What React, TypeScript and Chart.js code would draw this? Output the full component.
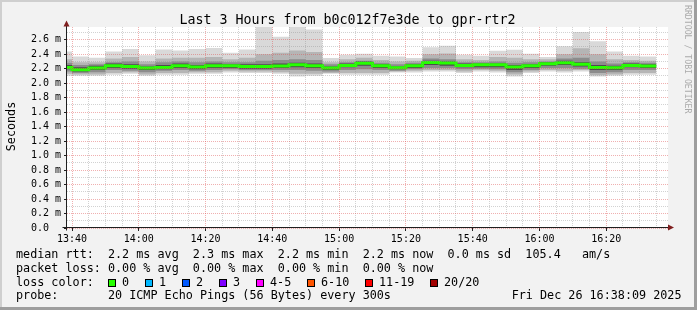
import React, { useEffect, useRef } from 'react';
import { Chart, registerables } from 'chart.js';

Chart.register(...registerables);

// ---- data ----
const binStarts = [
  '13:35', '13:40', '13:45', '13:50', '13:55', '14:00', '14:05', '14:10', '14:15',
  '14:20', '14:25', '14:30', '14:35', '14:40', '14:45', '14:50', '14:55', '15:00',
  '15:05', '15:10', '15:15', '15:20', '15:25', '15:30', '15:35', '15:40', '15:45',
  '15:50', '15:55', '16:00', '16:05', '16:10', '16:15', '16:20', '16:25', '16:30',
];
const binEnd = '16:35';

// median rtt (ms)
const medianMs = [
  2.217, 2.185, 2.209, 2.241, 2.231, 2.209, 2.217, 2.241, 2.223, 2.241, 2.241, 2.231,
  2.231, 2.237, 2.254, 2.241, 2.209, 2.245, 2.275, 2.241, 2.213, 2.241, 2.286, 2.278,
  2.245, 2.254, 2.254, 2.223, 2.241, 2.268, 2.283, 2.262, 2.217, 2.211, 2.245, 2.237,
];
// smoke: outermost (slowest / fastest ping)
const maxMs = [
  2.438, 2.369, 2.352, 2.437, 2.470, 2.385, 2.465, 2.452, 2.470, 2.485, 2.418, 2.465,
  2.900, 2.640, 2.900, 2.739, 2.347, 2.393, 2.407, 2.379, 2.369, 2.347, 2.494, 2.517,
  2.393, 2.379, 2.448, 2.462, 2.407, 2.361, 2.508, 2.707, 2.577, 2.438, 2.379, 2.369,
];
const minMs = [
  2.102, 2.102, 2.102, 2.116, 2.130, 2.102, 2.116, 2.116, 2.130, 2.130, 2.148, 2.140,
  2.140, 2.130, 2.093, 2.102, 2.130, 2.116, 2.116, 2.116, 2.148, 2.148, 2.162, 2.162,
  2.140, 2.162, 2.148, 2.093, 2.140, 2.162, 2.148, 2.162, 2.093, 2.102, 2.116, 2.116,
];
const upper1 = [
  2.33, 2.29, 2.29, 2.34, 2.36, 2.30, 2.34, 2.35, 2.35, 2.36, 2.33, 2.35,
  2.40, 2.42, 2.45, 2.43, 2.29, 2.33, 2.35, 2.32, 2.30, 2.31, 2.40, 2.41,
  2.33, 2.32, 2.36, 2.35, 2.33, 2.33, 2.40, 2.48, 2.40, 2.33, 2.32, 2.31,
];
const lower1 = [
  2.13, 2.12, 2.12, 2.14, 2.15, 2.12, 2.14, 2.14, 2.15, 2.15, 2.17, 2.16,
  2.16, 2.15, 2.13, 2.13, 2.14, 2.14, 2.14, 2.14, 2.16, 2.17, 2.18, 2.18,
  2.16, 2.18, 2.17, 2.12, 2.16, 2.18, 2.17, 2.18, 2.11, 2.12, 2.14, 2.14,
];
const upper2 = [
  2.28, 2.25, 2.26, 2.29, 2.30, 2.26, 2.29, 2.30, 2.29, 2.30, 2.29, 2.29,
  2.31, 2.32, 2.33, 2.32, 2.26, 2.29, 2.31, 2.28, 2.26, 2.28, 2.34, 2.33,
  2.29, 2.29, 2.30, 2.28, 2.29, 2.30, 2.34, 2.35, 2.30, 2.27, 2.29, 2.28,
];
const lower2 = [
  2.16, 2.14, 2.15, 2.18, 2.17, 2.15, 2.17, 2.18, 2.17, 2.18, 2.19, 2.18,
  2.18, 2.18, 2.18, 2.17, 2.16, 2.18, 2.19, 2.18, 2.17, 2.19, 2.21, 2.21,
  2.19, 2.20, 2.19, 2.15, 2.18, 2.21, 2.21, 2.20, 2.14, 2.15, 2.18, 2.18,
];
const upper3 = [
  2.25, 2.22, 2.24, 2.27, 2.26, 2.23, 2.25, 2.27, 2.25, 2.27, 2.26, 2.26,
  2.26, 2.27, 2.28, 2.27, 2.23, 2.27, 2.30, 2.26, 2.23, 2.26, 2.31, 2.30,
  2.27, 2.27, 2.27, 2.25, 2.26, 2.29, 2.31, 2.29, 2.25, 2.24, 2.27, 2.26,
];
const lower3 = [
  2.19, 2.16, 2.18, 2.21, 2.20, 2.18, 2.19, 2.21, 2.19, 2.21, 2.21, 2.20,
  2.20, 2.21, 2.22, 2.21, 2.18, 2.22, 2.24, 2.21, 2.19, 2.21, 2.25, 2.24,
  2.22, 2.22, 2.22, 2.18, 2.21, 2.24, 2.25, 2.23, 2.18, 2.18, 2.22, 2.21,
];

// axes
const xRangeStart = '13:38:30';
const xRangeEnd = '16:38:30';
const xGridTimes = [
  '13:40', '13:45', '13:50', '13:55', '14:00', '14:05', '14:10', '14:15', '14:20',
  '14:25', '14:30', '14:35', '14:40', '14:45', '14:50', '14:55', '15:00', '15:05',
  '15:10', '15:15', '15:20', '15:25', '15:30', '15:35', '15:40', '15:45', '15:50',
  '15:55', '16:00', '16:05', '16:10', '16:15', '16:20', '16:25', '16:30', '16:35',
];
const xTickLabels = ['13:40', '14:00', '14:20', '14:40', '15:00', '15:20', '15:40', '16:00', '16:20'];
const yMax = 2.775;
const yGridValues = [
  0, 0.1, 0.2, 0.3, 0.4, 0.5, 0.6, 0.7, 0.8, 0.9, 1.0, 1.1, 1.2, 1.3,
  1.4, 1.5, 1.6, 1.7, 1.8, 1.9, 2.0, 2.1, 2.2, 2.3, 2.4, 2.5, 2.6, 2.7,
];
const yLabelValues = [0, 0.2, 0.4, 0.6, 0.8, 1.0, 1.2, 1.4, 1.6, 1.8, 2.0, 2.2, 2.4, 2.6];
const yTickLabels = [
  '0.0  ', '0.2 m', '0.4 m', '0.6 m', '0.8 m', '1.0 m', '1.2 m',
  '1.4 m', '1.6 m', '1.8 m', '2.0 m', '2.2 m', '2.4 m', '2.6 m',
];

// texts
const titleText = 'Last 3 Hours from b0c012f7e3de to gpr-rtr2';
const yTitle = 'Seconds';
const watermark = 'RRDTOOL / TOBI OETIKER';
const statLine1 = 'median rtt:  2.2 ms avg  2.3 ms max  2.2 ms min  2.2 ms now  0.0 ms sd  105.4   am/s';
const statLine2 = 'packet loss: 0.00 % avg  0.00 % max  0.00 % min  0.00 % now';
const lossTitle = 'loss color:';
const lossLabels = ['0', '1', '2', '3', '4-5', '6-10', '11-19', '20/20'];
const lossColors = ['#26ff00', '#00b8ff', '#0059ff', '#7e00ff', '#ff00ff', '#ff5500', '#ff0000', '#a10000'];
const probeLine = 'probe:       20 ICMP Echo Pings (56 Bytes) every 300s';
const dateText = 'Fri Dec 26 16:38:09 2025';

// ---- helpers ----
const toMin = (t: string) => {
  const p = t.split(':').map(Number);
  return p[0] * 60 + p[1] + (p[2] || 0) / 60;
};
const stepX = [...binStarts, binEnd].map(toMin);
const stepSeries = (vals: number[]) =>
  stepX.map((x, i) => ({ x, y: vals[Math.min(i, vals.length - 1)] }));

const MONO = '"DejaVu Sans Mono", monospace';
const isMajorX = (v: number) => xTickLabels.some((t) => Math.abs(toMin(t) - v) < 1e-6);
const isMajorY = (v: number) => yLabelValues.some((t) => Math.abs(t - v) < 1e-6);

const rrdPlugin = {
  id: 'rrdFrame',
  beforeDraw(chart: any) {
    const { ctx, width, height, chartArea: a } = chart;
    ctx.save();
    ctx.fillStyle = '#f2f2f2';
    ctx.fillRect(0, 0, width, height);
    ctx.fillStyle = '#cfcfcf';
    ctx.fillRect(0, 0, width, 2);
    ctx.fillRect(0, 0, 2, height);
    ctx.fillStyle = '#9e9e9e';
    ctx.fillRect(0, height - 3, width, 3);
    ctx.fillRect(width - 3, 0, 3, height);
    ctx.fillStyle = '#ffffff';
    ctx.fillRect(a.left, a.top, a.right - a.left, a.bottom - a.top);
    ctx.restore();
  },
  afterDraw(chart: any) {
    const { ctx, chartArea: a } = chart;
    const ys = chart.scales.y;
    const xs = chart.scales.x;
    const axisY = Math.round(ys.getPixelForValue(0)) - 0.5;
    const axisX = Math.round(xs.left) - 0.5;
    ctx.save();
    // axes
    ctx.strokeStyle = '#1f1f1f';
    ctx.lineWidth = 1;
    ctx.beginPath();
    ctx.moveTo(axisX, axisY + 3);
    ctx.lineTo(axisX, a.top - 3);
    ctx.moveTo(axisX - 4, axisY);
    ctx.lineTo(a.right + 2, axisY);
    ctx.stroke();
    ctx.fillStyle = '#801f1f';
    ctx.beginPath();
    ctx.moveTo(axisX, a.top - 6.5);
    ctx.lineTo(axisX - 3, a.top - 0.5);
    ctx.lineTo(axisX + 3, a.top - 0.5);
    ctx.closePath();
    ctx.fill();
    ctx.beginPath();
    ctx.moveTo(a.right + 6, axisY);
    ctx.lineTo(a.right, axisY - 3);
    ctx.lineTo(a.right, axisY + 3);
    ctx.closePath();
    ctx.fill();

    // title
    ctx.fillStyle = '#000';
    ctx.textBaseline = 'alphabetic';
    ctx.textAlign = 'center';
    ctx.font = `13.3px ${MONO}`;
    ctx.fillText(titleText, 347.5, 24);

    // y title
    ctx.save();
    ctx.translate(15, 126.5);
    ctx.rotate(-Math.PI / 2);
    ctx.font = `11.76px ${MONO}`;
    ctx.textAlign = 'center';
    ctx.fillText(yTitle, 0, 0);
    ctx.restore();

    // watermark
    ctx.save();
    ctx.translate(685, 5);
    ctx.rotate(Math.PI / 2);
    ctx.font = `8.2px ${MONO}`;
    ctx.textAlign = 'left';
    ctx.fillStyle = '#ababab';
    ctx.fillText(watermark, 0, 0);
    ctx.restore();

    // legend
    ctx.font = `11.76px ${MONO}`;
    ctx.textAlign = 'left';
    ctx.fillStyle = '#000';
    ctx.fillText(statLine1, 16, 258);
    ctx.fillText(statLine2, 16, 271.7);
    ctx.fillText(lossTitle, 16, 285.5);
    ctx.fillText(probeLine, 16, 299.3);
    ctx.textAlign = 'right';
    ctx.fillText(dateText, 681.5, 299.3);
    ctx.textAlign = 'left';
    const boxX = [108, 145, 182, 219, 256, 307, 365, 430];
    lossLabels.forEach((lab, i) => {
      const bx = boxX[i];
      ctx.fillStyle = lossColors[i];
      ctx.fillRect(bx, 279, 8, 8);
      ctx.strokeStyle = '#000';
      ctx.strokeRect(bx + 0.5, 279.5, 7, 7);
      ctx.fillStyle = '#000';
      ctx.fillText(lab, bx + 14, 285.5);
    });
    ctx.restore();
  },
};

const band = (data: number[], color: string, target: number | false, order: number) => ({
  data: stepSeries(data),
  stepped: 'before' as const,
  borderWidth: 0,
  borderColor: 'rgba(0,0,0,0)',
  backgroundColor: color,
  pointRadius: 0,
  fill: target === false ? false : target,
  order,
  clip: 0,
});

export default function App() {
  const ref = useRef<HTMLCanvasElement | null>(null);
  useEffect(() => {
    document.body.style.margin = '0';
    if (!ref.current) return;
    const chart = new Chart(ref.current, {
      type: 'line',
      data: {
        datasets: [
          band(maxMs, '#d9d9d9', 1, 10),
          band(minMs, '#d9d9d9', false, 10),
          band(upper1, '#b5b5b5', 3, 9),
          band(lower1, '#b5b5b5', false, 9),
          band(upper2, '#8c8c8c', 5, 8),
          band(lower2, '#8c8c8c', false, 8),
          band(upper3, '#4c4c4c', 7, 7),
          band(lower3, '#4c4c4c', false, 7),
          {
            data: stepSeries(medianMs),
            stepped: 'before' as const,
            borderWidth: 3,
            borderColor: '#26ff00',
            borderCapStyle: 'butt',
            borderJoinStyle: 'miter',
            pointRadius: 0,
            fill: false,
            order: 0,
            clip: 0,
          } as any,
        ],
      },
      options: {
        responsive: false,
        devicePixelRatio: 1,
        animation: false,
        events: [],
        layout: { padding: { left: 0, right: 29, top: 27, bottom: 0 } },
        plugins: { legend: { display: false }, tooltip: { enabled: false }, title: { display: false } },
        scales: {
          x: {
            type: 'linear',
            min: toMin(xRangeStart),
            max: toMin(xRangeEnd),
            afterFit: (s: any) => { s.height = 82; },
            afterBuildTicks: (s: any) => { s.ticks = xGridTimes.map((t) => ({ value: toMin(t) })); },
            border: { display: false, dash: [1, 1] },
            grid: {
              z: 1,
              lineWidth: 1,
              color: (c: any) => (c.tick && isMajorX(c.tick.value) ? 'rgba(222,79,79,0.45)' : 'rgba(143,143,143,0.4)'),
              tickColor: (c: any) => (c.tick && isMajorX(c.tick.value) ? '#1f1f1f' : 'rgba(0,0,0,0)'),
              tickLength: 3,
              drawTicks: true,
            },
            ticks: {
              autoSkip: false,
              maxRotation: 0,
              minRotation: 0,
              padding: 2,
              color: '#000',
              font: { family: 'DejaVu Sans Mono', size: 10 },
              callback: (v: any) => {
                const i = xTickLabels.findIndex((t) => Math.abs(toMin(t) - Number(v)) < 1e-6);
                return i >= 0 ? xTickLabels[i] : '';
              },
            },
          },
          y: {
            type: 'linear',
            min: 0,
            max: yMax,
            afterFit: (s: any) => { s.width = 67; },
            afterBuildTicks: (s: any) => { s.ticks = yGridValues.map((v) => ({ value: v })); },
            border: { display: false, dash: [1, 1] },
            grid: {
              z: 1,
              lineWidth: 1,
              color: (c: any) => (c.tick && isMajorY(c.tick.value) ? 'rgba(222,79,79,0.45)' : 'rgba(143,143,143,0.4)'),
              tickColor: (c: any) => (c.tick && isMajorY(c.tick.value) ? '#1f1f1f' : 'rgba(0,0,0,0)'),
              tickLength: 3,
              drawTicks: true,
            },
            ticks: {
              autoSkip: false,
              padding: 3,
              color: '#000',
              font: { family: 'DejaVu Sans Mono', size: 10 },
              callback: (v: any) => {
                const i = yLabelValues.findIndex((t) => Math.abs(t - Number(v)) < 1e-6);
                return i >= 0 ? yTickLabels[i] : '';
              },
            },
          },
        },
      },
      plugins: [rrdPlugin],
    } as any);
    return () => chart.destroy();
  }, []);
  return (
    <div style={{ width: 697, height: 310 }}>
      <canvas ref={ref} width={697} height={310} style={{ display: 'block' }} />
    </div>
  );
}
